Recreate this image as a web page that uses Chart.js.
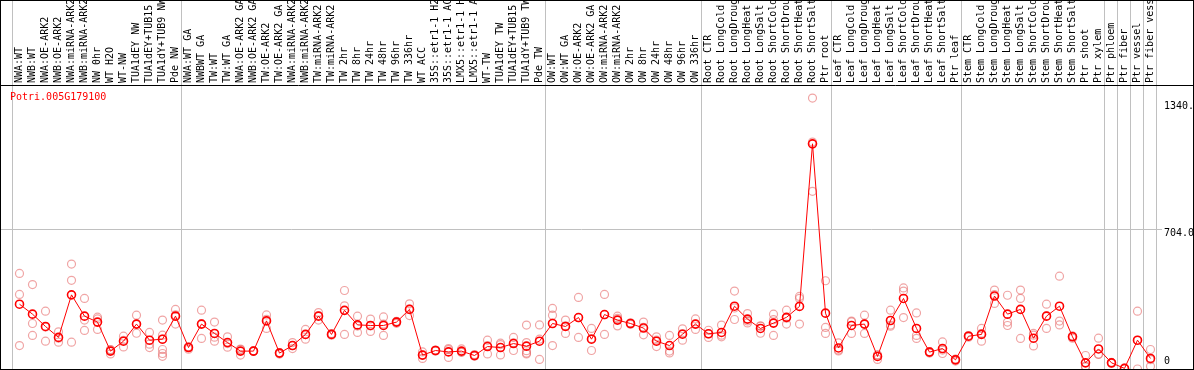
<!DOCTYPE html>
<html>
<head>
<meta charset="utf-8">
<script src="https://cdn.jsdelivr.net/npm/chart.js@4.4.0/dist/chart.umd.min.js"></script>
<style>
  html, body { margin: 0; padding: 0; background: #fff; }
  canvas { display: block; }
</style>
</head>
<body>
<canvas id="exprChart" width="1194" height="370"></canvas>
<script>
const geneName = 'Potri.005G179100';

const samples = [
  'NWA:WT', 'NWB:WT', 'NWA:OE-ARK2', 'NWB:OE-ARK2', 'NWA:miRNA-ARK2', 'NWB:miRNA-ARK2',
  'NW 0hr', 'WT H2O', 'WT-NW', 'TUA1dEY NW', 'TUA1dEY+TUB15', 'TUA1dY+TUB9 NW', 'Pde NW',
  'NWA:WT GA', 'NWBWT GA', 'TW:WT', 'TW:WT GA', 'NWA:OE-ARK2 GA', 'NWB:OE-ARK2 GA',
  'TW:OE-ARK2', 'TW:OE-ARK2 GA', 'NWA:miRNA-ARK2', 'NWB:miRNA-ARK2', 'TW:miRNA-ARK2',
  'TW:miRNA-ARK2', 'TW 2hr', 'TW 8hr', 'TW 24hr', 'TW 48hr', 'TW 96hr', 'TW 336hr',
  'WT ACC', '35S::etr1-1 H2', '35S::etr1-1 AC', 'LMX5::etr1-1 H', 'LMX5::etr1-1 A',
  'WT-TW', 'TUA1dEY TW', 'TUA1dEY+TUB15', 'TUA1dY+TUB9 TW', 'Pde TW',
  'OW:WT', 'OW:WT GA', 'OW:OE-ARK2', 'OW:OE-ARK2 GA', 'OW:miRNA-ARK2', 'OW:miRNA-ARK2',
  'OW 2hr', 'OW 8hr', 'OW 24hr', 'OW 48hr', 'OW 96hr', 'OW 336hr',
  'Root CTR', 'Root LongCold', 'Root LongDroug', 'Root LongHeat', 'Root LongSalt',
  'Root ShortCold', 'Root ShortDrou', 'Root ShortHeat', 'Root ShortSalt', 'Ptr root',
  'Leaf CTR', 'Leaf LongCold', 'Leaf LongDroug', 'Leaf LongHeat', 'Leaf LongSalt',
  'Leaf ShortCold', 'Leaf ShortDrou', 'Leaf ShortHeat', 'Leaf ShortSalt', 'Ptr leaf',
  'Stem CTR', 'Stem LongCold', 'Stem LongDroug', 'Stem LongHeat', 'Stem LongSalt',
  'Stem ShortCold', 'Stem ShortDrou', 'Stem ShortHeat', 'Stem ShortSalt', 'Ptr shoot',
  'Ptr xylem', 'Ptr phloem', 'Ptr fiber', 'Ptr vessel', 'Ptr fiber vess'
];

// mean expression per sample
const means = [
  326, 276, 214, 159, 373, 266, 236, 90, 140, 226, 145, 150, 266,
  108, 226, 179, 133, 90, 90, 242, 80, 118, 174, 266, 174, 295, 222, 219, 219, 236, 300,
  70, 93, 86, 90, 68, 113, 108, 128, 115, 140,
  229, 214, 259, 150, 274, 246, 229, 206, 140, 118, 175, 226,
  177, 184, 316, 251, 204, 231, 260, 315, 1133, 281,
  106, 219, 226, 63, 244, 355, 204, 85, 103, 46,
  165, 174, 367, 276, 300, 155, 266, 316, 162, 31,
  101, 31, 3, 145, 53
];

// individual replicates per sample
const replicates = [
  [481, 375, 118], [425, 229, 169], [291, 140, 211], [187, 135, 155], [528, 446, 135],
  [355, 246, 194], [261, 252, 199], [98, 76, 96], [165, 111, 144], [271, 180, 226],
  [184, 125, 108], [246, 170, 150, 98, 78, 64], [300, 226, 272],
  [100, 112, 112], [296, 154, 228], [236, 140, 160], [162, 110, 128], [98, 70, 100],
  [88, 92, 90], [272, 204, 250], [75, 82, 83], [133, 103, 118], [199, 150, 173],
  [284, 246, 268], [170, 178, 174], [395, 318, 174], [266, 184, 216], [251, 189, 217],
  [262, 169, 226], [230, 240, 238], [328, 269, 302],
  [86, 53, 70], [90, 95, 94], [103, 58, 97], [101, 85, 84], [73, 65, 66],
  [145, 76, 118], [123, 71, 130], [159, 93, 132], [221, 133, 92, 80, 76], [222, 48, 150],
  [305, 271, 118], [246, 179, 217], [360, 159, 258], [204, 93, 153], [375, 174, 273],
  [266, 217, 255], [225, 232, 230], [236, 172, 210], [162, 113, 145], [169, 90, 81],
  [202, 145, 178], [252, 199, 226],
  [195, 159, 177], [221, 162, 170], [392, 249, 307], [279, 232, 242], [217, 180, 215],
  [276, 169, 248], [296, 226, 256], [365, 355, 226], [1363, 894, 1142], [444, 209, 179],
  [131, 91, 96], [241, 179, 237], [271, 179, 228], [70, 48, 71], [296, 215, 221],
  [408, 392, 259], [282, 169, 154], [80, 88, 87], [136, 78, 95], [40, 50, 48],
  [160, 168, 167], [204, 140, 178], [397, 330, 374], [371, 236, 219], [397, 355, 154],
  [179, 116, 170], [326, 204, 268], [467, 241, 222], [155, 165, 166], [68, 14, 11],
  [155, 75, 73], [28, 33, 32], [2, 3, 4], [291, 0, 144], [98, 47, 14]
];

// group separators come after these sample indexes
const groupEnds = [-1, 12, 40, 52, 62, 72, 83, 84, 85, 86, 87];

const yTicks = [0, 704, 1340];
const yTickLabels = ['0', '704.0', '1340.0'];
const yMax = 1429;

const monoFamily = "'DejaVu Sans Mono', monospace";

// one scatter-like dataset per replicate slot
const maxReps = Math.max(...replicates.map(r => r.length));
const repSets = [];
for (let k = 0; k < maxReps; k++) {
    repSets.push({
        data: replicates.map(r => (k < r.length ? r[k] : null)),
        showLine: false,
        pointRadius: 4,
        pointBorderWidth: 1.2,
        pointBorderColor: 'rgba(230, 105, 105, 0.6)',
        pointBackgroundColor: 'rgba(0, 0, 0, 0)',
        pointHoverRadius: 4
    });
}

function noPadding(scale) {
    scale.paddingLeft = 0;
    scale.paddingRight = 0;
    scale.paddingTop = 0;
    scale.paddingBottom = 0;
}

const framePlugin = {
    id: 'framePlugin',
    beforeDraw(chart) {
        const ctx = chart.ctx;
        const area = chart.chartArea;
        const xs = chart.scales.x;
        const ys = chart.scales.y;
        ctx.save();
        ctx.fillStyle = '#fff';
        ctx.fillRect(0, 0, chart.width, chart.height);
        ctx.strokeStyle = '#c0c0c0';
        ctx.lineWidth = 1;
        groupEnds.forEach(k => {
            const x = Math.round(xs.getPixelForValue(k) + 5) + 0.5;
            ctx.beginPath();
            ctx.moveTo(x, 0);
            ctx.lineTo(x, area.bottom);
            ctx.stroke();
        });
        const gy = Math.round(ys.getPixelForValue(yTicks[1])) + 0.5;
        ctx.beginPath();
        ctx.moveTo(1, gy);
        ctx.lineTo(area.right + 5, gy);
        ctx.stroke();
        ctx.restore();
    },
    afterDraw(chart) {
        const ctx = chart.ctx;
        const area = chart.chartArea;
        ctx.save();
        ctx.strokeStyle = '#000';
        ctx.lineWidth = 1;
        ctx.strokeRect(0.5, 0.5, chart.width - 1, area.bottom);
        ctx.beginPath();
        ctx.moveTo(0, area.top + 0.5);
        ctx.lineTo(chart.width, area.top + 0.5);
        ctx.stroke();
        ctx.fillStyle = '#ff0000';
        ctx.font = "10px 'DejaVu Sans Mono', monospace";
        ctx.textBaseline = 'middle';
        ctx.fillText(geneName, 10, area.top + 12);
        ctx.restore();
    }
};

const ctx = document.getElementById('exprChart').getContext('2d');
new Chart(ctx, {
    type: 'line',
    data: {
        labels: samples,
        datasets: [{
            data: means,
            borderColor: '#ff0000',
            borderWidth: 1,
            tension: 0,
            pointRadius: 4,
            pointBorderWidth: 1.6,
            pointBorderColor: '#ff0000',
            pointBackgroundColor: 'rgba(0, 0, 0, 0)'
        }, ...repSets]
    },
    options: {
        responsive: false,
        devicePixelRatio: 1,
        animation: false,
        events: [],
        layout: { autoPadding: false, padding: { left: 13, right: 0, top: 0, bottom: 1 } },
        plugins: {
            legend: { display: false },
            tooltip: { enabled: false }
        },
        scales: {
            x: {
                position: 'top',
                offset: true,
                grid: { display: false, drawTicks: false },
                border: { display: false },
                ticks: {
                    autoSkip: false,
                    minRotation: 90,
                    maxRotation: 90,
                    padding: 2,
                    labelOffset: 12,
                    color: '#000',
                    font: { family: monoFamily, size: 10 }
                },
                afterFit(scale) {
                    scale.height = 85;
                    noPadding(scale);
                }
            },
            y: {
                position: 'right',
                min: 0,
                max: yMax,
                grid: { display: false, drawTicks: false },
                border: { display: false },
                afterBuildTicks(axis) { axis.ticks = yTicks.map(v => ({ value: v })); },
                ticks: {
                    padding: 7,
                    color: '#000',
                    font: { family: monoFamily, size: 10, lineHeight: 0.8 },
                    callback(value, index) {
                        return index === 0 ? [yTickLabels[0], '', ''] : ['', yTickLabels[index]];
                    }
                },
                afterFit(scale) {
                    scale.width = 37;
                    noPadding(scale);
                }
            }
        }
    },
    plugins: [framePlugin]
});
</script>
</body>
</html>
